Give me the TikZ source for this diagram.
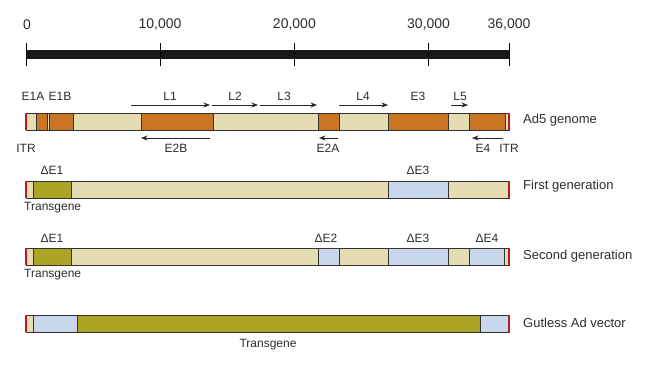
\documentclass[tikz,border=0pt]{standalone}
\usepackage{fontspec}
\setmainfont{Liberation Sans}
\usetikzlibrary{arrows.meta}
\definecolor{adtan}{RGB}{230,220,180}
\definecolor{adorange}{RGB}{202,117,36}
\definecolor{adolive}{RGB}{172,164,36}
\definecolor{adblue}{RGB}{201,215,236}
\definecolor{adred}{RGB}{180,30,30}
\definecolor{adtext}{RGB}{45,45,45}
\begin{document}
\begin{tikzpicture}[x=1pt, y=-1pt,
    seg/.style={draw=black!80, line width=0.7pt},
    itr/.style={adred, line width=1.6pt},
    gene/.style={-{Stealth[length=6.5pt, width=5pt]}, line width=0.7pt, black!85},
    lbl/.style={font=\fontsize{12}{14}\selectfont, inner sep=0pt, text=adtext},
    numlbl/.style={font=\fontsize{14}{16}\selectfont, inner sep=0pt, text=adtext},
    rowlbl/.style={font=\fontsize{13}{15}\selectfont, inner sep=0pt, anchor=west, text=adtext}]
  \useasboundingbox (0,0) rectangle (650,364);

  % scale bar
  \begin{scope}
        \fill[black!90] (26, 50) rectangle (509, 59);
        \draw[line width=1pt] (26, 43) -- (26, 66);
        \draw[line width=1pt] (160, 43) -- (160, 66);
        \draw[line width=1pt] (294.4, 43) -- (294.4, 66);
        \draw[line width=1pt] (428.6, 43) -- (428.6, 66);
        \draw[line width=1pt] (509, 43) -- (509, 66);
        \node[numlbl] (n0) at (27, 25) {0};
        \node[numlbl] (n10) at (160, 25) {10,000};
        \node[numlbl] (n20) at (294.4, 25) {20,000};
        \node[numlbl] (n30) at (428.6, 25) {30,000};
        \node[numlbl] (n36) at (509, 25) {36,000};
  \end{scope}

  % Ad5 genome
  \begin{scope}[yshift=-113pt]
        \draw[seg, fill=adtan] (26, 0) rectangle (36, 17);
        \draw[seg, fill=adorange] (36, 0) rectangle (47, 17);
        \draw[seg, fill=adtan] (47, 0) rectangle (49, 17);
        \draw[seg, fill=adorange] (49, 0) rectangle (73, 17);
        \draw[seg, fill=adtan] (73, 0) rectangle (141, 17);
        \draw[seg, fill=adorange] (141, 0) rectangle (213, 17);
        \draw[seg, fill=adtan] (213, 0) rectangle (318, 17);
        \draw[seg, fill=adorange] (318, 0) rectangle (339, 17);
        \draw[seg, fill=adtan] (339, 0) rectangle (388, 17);
        \draw[seg, fill=adorange] (388, 0) rectangle (448, 17);
        \draw[seg, fill=adtan] (448, 0) rectangle (469, 17);
        \draw[seg, fill=adorange] (469, 0) rectangle (505, 17);
        \draw[seg, fill=adtan] (505, 0) rectangle (509, 17);
        \draw[itr] (26, 0) -- (26, 17);
        \draw[itr] (509, 0) -- (509, 17);

        \node[lbl] (e1a) at (33, -17) {E1A};
        \node[lbl] (e1b) at (60, -17) {E1B};
        \node[lbl] (l1) at (170, -17) {L1};
        \node[lbl] (l2) at (235, -17) {L2};
        \node[lbl] (l3) at (284, -17) {L3};
        \node[lbl] (l4) at (363, -17) {L4};
        \node[lbl] (e3) at (418, -17) {E3};
        \node[lbl] (l5) at (460, -17) {L5};
        \draw[gene] (131, -8) -- (210, -8);
        \draw[gene] (212, -8) -- (258, -8);
        \draw[gene] (260, -8) -- (317, -8);
        \draw[gene] (339, -8) -- (388, -8);
        \draw[gene] (451, -8) -- (468, -8);

        \draw[gene] (210, 25) -- (141, 25);
        \draw[gene] (338, 25) -- (319, 25);
        \draw[gene] (503, 25) -- (472, 25);
        \node[lbl] (itrl) at (26, 35) {ITR};
        \node[lbl] (e2b) at (176, 35) {E2B};
        \node[lbl] (e2a) at (328, 35) {E2A};
        \node[lbl] (e4) at (483, 35) {E4};
        \node[lbl] (itrr) at (509, 35) {ITR};
        \node[rowlbl] (ad5) at (523, 7) {Ad5 genome};
  \end{scope}

  % first generation
  \begin{scope}[yshift=-181pt]
        \draw[seg, fill=adtan] (26, 0) rectangle (33, 17);
        \draw[seg, fill=adolive] (33, 0) rectangle (71, 17);
        \draw[seg, fill=adtan] (71, 0) rectangle (388, 17);
        \draw[seg, fill=adblue] (388, 0) rectangle (448, 17);
        \draw[seg, fill=adtan] (448, 0) rectangle (509, 17);
        \draw[itr] (26, 0) -- (26, 17);
        \draw[itr] (509, 0) -- (509, 17);

        \node[lbl] (d1e1) at (52, -11) {ΔE1};
        \node[lbl] (d1e3) at (418, -11) {ΔE3};
        \node[lbl, anchor=west] (tg1) at (24, 27) {Transgene};
        \node[rowlbl] (first) at (523, 5) {First generation};
  \end{scope}

  % second generation
  \begin{scope}[yshift=-248pt]
        \draw[seg, fill=adtan] (26, 0) rectangle (33, 17);
        \draw[seg, fill=adolive] (33, 0) rectangle (71, 17);
        \draw[seg, fill=adtan] (71, 0) rectangle (318, 17);
        \draw[seg, fill=adblue] (318, 0) rectangle (339, 17);
        \draw[seg, fill=adtan] (339, 0) rectangle (388, 17);
        \draw[seg, fill=adblue] (388, 0) rectangle (448, 17);
        \draw[seg, fill=adtan] (448, 0) rectangle (469, 17);
        \draw[seg, fill=adblue] (469, 0) rectangle (504, 17);
        \draw[seg, fill=adtan] (504, 0) rectangle (509, 17);
        \draw[itr] (26, 0) -- (26, 17);
        \draw[itr] (509, 0) -- (509, 17);

        \node[lbl] (d2e1) at (52, -10) {ΔE1};
        \node[lbl] (d2e2) at (326, -10) {ΔE2};
        \node[lbl] (d2e3) at (418, -10) {ΔE3};
        \node[lbl] (d2e4) at (487, -10) {ΔE4};
        \node[lbl, anchor=west] (tg2) at (24, 27) {Transgene};
        \node[rowlbl] (second) at (523, 8) {Second generation};
  \end{scope}

  % gutless vector
  \begin{scope}[yshift=-315pt]
        \draw[seg, fill=adtan] (26, 0) rectangle (33, 17);
        \draw[seg, fill=adblue] (33, 0) rectangle (77, 17);
        \draw[seg, fill=adolive] (77, 0) rectangle (480, 17);
        \draw[seg, fill=adblue] (480, 0) rectangle (509, 17);
        \draw[itr] (26, 0) -- (26, 17);
        \draw[itr] (509, 0) -- (509, 17);

        \node[lbl] (tg3) at (268, 30) {Transgene};
        \node[rowlbl] (gutless) at (523, 8) {Gutless Ad vector};
  \end{scope}
\end{tikzpicture}
\end{document}
